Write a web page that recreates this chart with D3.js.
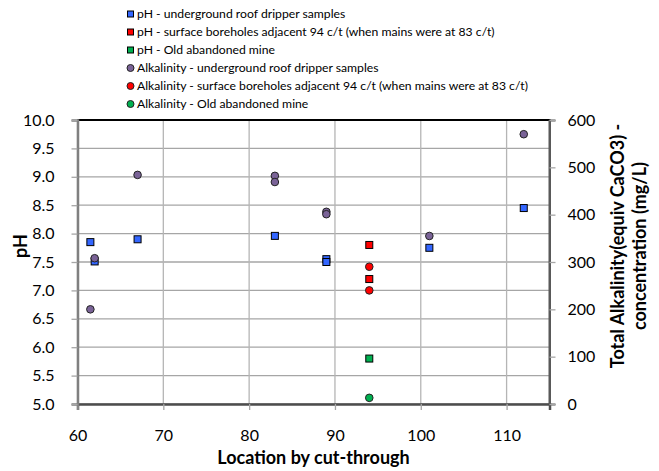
<!DOCTYPE html>
<html>
<head>
<meta charset="utf-8">
<script src="https://cdn.jsdelivr.net/npm/d3@7"></script>
<style>
  body { margin: 0; background: #fff; }
  svg text { font-family: Lato, "Open Sans", sans-serif; fill: #000; }
</style>
</head>
<body>
<svg id="chart" width="659" height="471"></svg>
<script>
// pH readings
const phUndergroundX = [61.5, 62, 67, 83, 89, 89, 101, 112]
const phUndergroundY = [7.85, 7.51, 7.90, 7.96, 7.55, 7.50, 7.75, 8.45]
const phSurfaceX = [94, 94]
const phSurfaceY = [7.80, 7.20]
const phMineX = [94]
const phMineY = [5.80]

// alkalinity readings (mg/L)
const alkUndergroundX = [61.5, 62, 67, 83, 83, 89, 89, 101, 112]
const alkUndergroundY = [200, 308, 484, 482, 469, 406, 401, 355, 570]
const alkSurfaceX = [94, 94]
const alkSurfaceY = [290, 240]
const alkMineX = [94]
const alkMineY = [13]

const xTicks = [60, 70, 80, 90, 100, 110]
const phTicks = [5, 5.5, 6, 6.5, 7, 7.5, 8, 8.5, 9, 9.5, 10]
const alkTicks = [0, 100, 200, 300, 400, 500, 600]

const legendLabels = [
  "pH - underground roof dripper samples",
  "pH - surface boreholes adjacent 94 c/t (when mains were at 83 c/t)",
  "pH - Old abandoned mine",
  "Alkalinity - underground roof dripper samples",
  "Alkalinity - surface boreholes adjacent 94 c/t (when mains were at 83 c/t)",
  "Alkalinity - Old abandoned mine"
]

const blue = "#3366ff", red = "#ff0000", green = "#00b050", purple = "#7a6397"

const margin = {left: 77.5, top: 120, right: 549.5, bottom: 404}

const svg = d3.select("#chart")

const x = d3.scaleLinear().domain([60, 115]).range([margin.left, margin.right])
const yPh = d3.scaleLinear().domain([5, 10]).range([margin.bottom, margin.top])
const yAlk = d3.scaleLinear().domain([0, 600]).range([margin.bottom, margin.top])

// gridlines
svg.append("g").selectAll("line").data(phTicks).join("line")
    .attr("x1", margin.left).attr("x2", margin.right)
    .attr("y1", d => yPh(d)).attr("y2", d => yPh(d))
    .attr("stroke", "#a6a6a6").attr("stroke-width", 1.3)

svg.append("g").selectAll("line").data(xTicks).join("line")
    .attr("x1", d => x(d)).attr("x2", d => x(d))
    .attr("y1", margin.top).attr("y2", margin.bottom)
    .attr("stroke", "#b5b5b5").attr("stroke-width", 1.3)

// border top / right
svg.append("line")
    .attr("x1", margin.left).attr("x2", margin.right + 1)
    .attr("y1", margin.top).attr("y2", margin.top)
    .attr("stroke", "#000").attr("stroke-width", 2)
svg.append("line")
    .attr("x1", margin.right).attr("x2", margin.right)
    .attr("y1", margin.top).attr("y2", margin.bottom)
    .attr("stroke", "#595959").attr("stroke-width", 2)

// axes
const xAxis = svg.append("g")
    .attr("transform", `translate(0,${margin.bottom})`)
    .call(d3.axisBottom(x).tickValues(xTicks).tickSize(6).tickPadding(20))
const leftAxis = svg.append("g")
    .attr("transform", `translate(${margin.left},0)`)
    .call(d3.axisLeft(yPh).tickValues(phTicks).tickFormat(d3.format(".1f")).tickSize(6).tickPadding(17))
const rightAxis = svg.append("g")
    .attr("transform", `translate(${margin.right},0)`)
    .call(d3.axisRight(yAlk).tickValues(alkTicks).tickSize(6).tickPadding(12))

;[xAxis, leftAxis, rightAxis].forEach(a => {
  a.selectAll("text").attr("font-size", 16).attr("font-family", "Lato, sans-serif").attr("fill", "#000")
  a.selectAll(".tick line").attr("stroke", "#a6a6a6").attr("stroke-width", 1.3)
})
xAxis.select(".domain").attr("stroke", "#4d4d4d").attr("stroke-width", 2.5)
leftAxis.select(".domain").attr("stroke", "#808080").attr("stroke-width", 2.5)
rightAxis.select(".domain").attr("stroke", "#595959").attr("stroke-width", 2)

// axis titles
svg.append("text")
    .attr("x", (margin.left + margin.right) / 2).attr("y", 464)
    .attr("text-anchor", "middle").attr("font-size", 18).attr("font-weight", "bold")
    .text("Location by cut-through")

svg.append("text")
    .attr("transform", "translate(27,246) rotate(-90)")
    .attr("text-anchor", "middle").attr("font-size", 18).attr("font-weight", "bold")
    .text("pH")

const rTitle = svg.append("text")
    .attr("transform", "translate(624,246) rotate(-90)")
    .attr("text-anchor", "middle").attr("font-size", 18).attr("font-weight", "bold")
rTitle.append("tspan").attr("x", 0).attr("dy", 0).text("Total Alkalinity(equiv  CaCO3) -")
rTitle.append("tspan").attr("x", 0).attr("dy", 22).text("concentration (mg/L)")

// markers
function squares(xs, ys, color) {
  svg.append("g").selectAll("rect").data(xs).join("rect")
      .attr("x", (d, i) => x(d) - 3.5).attr("y", (d, i) => yPh(ys[i]) - 3.5)
      .attr("width", 7).attr("height", 7)
      .attr("fill", color).attr("stroke", "#000").attr("stroke-width", 1)
}
function dots(xs, ys, color) {
  svg.append("g").selectAll("circle").data(xs).join("circle")
      .attr("cx", d => x(d)).attr("cy", (d, i) => yAlk(ys[i]))
      .attr("r", 3.8)
      .attr("fill", color).attr("stroke", "#222").attr("stroke-width", 1)
}

squares(phUndergroundX, phUndergroundY, blue)
squares(phSurfaceX, phSurfaceY, red)
squares(phMineX, phMineY, green)
dots(alkUndergroundX, alkUndergroundY, purple)
dots(alkSurfaceX, alkSurfaceY, red)
dots(alkMineX, alkMineY, green)

// legend
const legendColors = [blue, red, green, purple, red, green]
const legend = svg.append("g")
legendLabels.forEach((label, i) => {
  const ly = 14 + i * 18
  if (i < 3) {
    legend.append("rect").attr("x", 127.5).attr("y", ly - 3).attr("width", 6).attr("height", 6)
        .attr("fill", legendColors[i]).attr("stroke", "#000").attr("stroke-width", 1)
  } else {
    legend.append("circle").attr("cx", 130.5).attr("cy", ly).attr("r", 3.5)
        .attr("fill", legendColors[i]).attr("stroke", "#222").attr("stroke-width", 1)
  }
  legend.append("text").attr("x", 137).attr("y", ly).attr("dy", "0.35em")
      .attr("font-size", 12.2).attr("font-family", "'Open Sans', sans-serif")
      .text(label)
})
</script>
</body>
</html>
